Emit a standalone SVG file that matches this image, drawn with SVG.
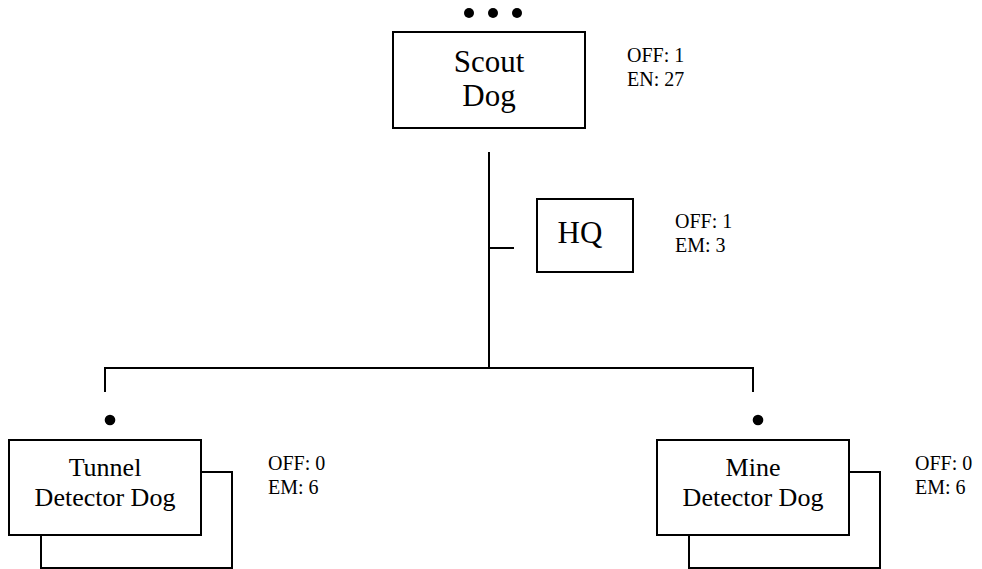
<svg xmlns="http://www.w3.org/2000/svg" width="982" height="569" viewBox="0 0 982 569">
<style>
.box{fill:#fff;stroke:#000;stroke-width:2}
.ln{fill:none;stroke:#000;stroke-width:2}
.t{font-family:"Liberation Serif","Times New Roman",serif;fill:#000}
.big{font-size:31px;text-anchor:middle}
.mid{font-size:26px;text-anchor:middle}
.lbl{font-size:20px}
.dot{fill:#000}
</style>
<rect width="982" height="569" fill="#fff"/>
<g id="connectors">
<path class="ln" d="M489,152 V368 M489,248 H514 M105,392 V368 H753 V392"/>
</g>
<g id="scout">
<circle class="dot" cx="469" cy="13" r="5"/>
<circle class="dot" cx="493" cy="13" r="5"/>
<circle class="dot" cx="517" cy="13" r="5"/>
<rect class="box" x="393" y="32" width="192" height="96"/>
<text class="t big" x="489" y="72">Scout</text>
<text class="t big" x="489" y="106">Dog</text>
<text class="t lbl" x="627" y="62">OFF: 1</text>
<text class="t lbl" x="627" y="86">EN: 27</text>
</g>
<g id="hq">
<rect class="box" x="537" y="199" width="96" height="73"/>
<text class="t big" x="580" y="243">HQ</text>
<text class="t lbl" x="675" y="228">OFF: 1</text>
<text class="t lbl" x="675" y="252">EM: 3</text>
</g>
<g id="tunnel">
<circle class="dot" cx="110" cy="420" r="5.3"/>
<rect class="box" x="41" y="472" width="191" height="96"/>
<rect class="box" x="9" y="440" width="192" height="95"/>
<text class="t mid" x="105" y="476">Tunnel</text>
<text class="t mid" x="105" y="506">Detector Dog</text>
<text class="t lbl" x="268" y="470">OFF: 0</text>
<text class="t lbl" x="268" y="494">EM: 6</text>
</g>
<g id="mine">
<circle class="dot" cx="758" cy="420" r="5.3"/>
<rect class="box" x="689" y="472" width="191" height="96"/>
<rect class="box" x="657" y="440" width="192" height="95"/>
<text class="t mid" x="753" y="476">Mine</text>
<text class="t mid" x="753" y="506">Detector Dog</text>
<text class="t lbl" x="915" y="470">OFF: 0</text>
<text class="t lbl" x="915" y="494">EM: 6</text>
</g>
</svg>
